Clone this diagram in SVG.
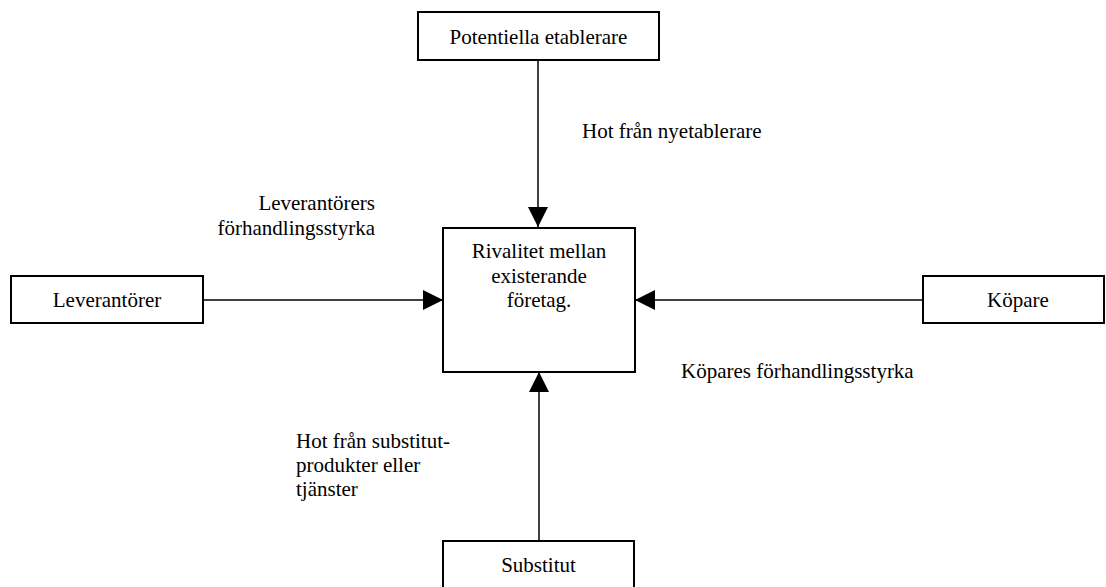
<svg xmlns="http://www.w3.org/2000/svg" width="1106" height="587" viewBox="0 0 1106 587">
<style>
.box{fill:#fff;stroke:#000;stroke-width:2}
.ln{stroke:#000;stroke-width:1.5;fill:none}
</style>
<defs>
<marker id="ah" viewBox="0 0 20 20" refX="20" refY="10" markerWidth="20" markerHeight="20" markerUnits="userSpaceOnUse" orient="auto">
<path d="M0,0 L20,10 L0,20 Z" fill="#000"/>
</marker>
</defs>
<rect width="1106" height="587" fill="#fff"/>
<g id="connectors">
<line class="ln" x1="538" y1="60" x2="538" y2="227" marker-end="url(#ah)"/>
<line class="ln" x1="203" y1="300" x2="443" y2="300" marker-end="url(#ah)"/>
<line class="ln" x1="923" y1="300" x2="635" y2="300" marker-end="url(#ah)"/>
<line class="ln" x1="539" y1="541" x2="539" y2="372" marker-end="url(#ah)"/>
</g>
<g font-family="Liberation Serif, Times New Roman, serif" font-size="21" fill="#000">
<g id="n-top"><rect class="box" x="418" y="12" width="241" height="48"/><text text-anchor="middle" x="538.5" y="44">Potentiella etablerare</text></g>
<g id="n-center"><rect class="box" x="443" y="228" width="192" height="144"/>
<text text-anchor="middle" x="539" y="258">Rivalitet mellan</text><text text-anchor="middle" x="539" y="283">existerande</text><text text-anchor="middle" x="539" y="307">företag.</text></g>
<g id="n-left"><rect class="box" x="11" y="276" width="192" height="47"/><text text-anchor="middle" x="107" y="307">Leverantörer</text></g>
<g id="n-right"><rect class="box" x="923" y="276" width="181" height="47"/><text text-anchor="middle" x="1018" y="307">Köpare</text></g>
<g id="n-bottom"><rect class="box" x="443" y="541" width="191" height="60"/><text text-anchor="middle" x="538.5" y="572">Substitut</text></g>
<g id="labels">
<text x="582" y="138">Hot från nyetablerare</text>
<text x="375" y="210" text-anchor="end">Leverantörers</text>
<text x="375" y="235" text-anchor="end">förhandlingsstyrka</text>
<text x="681" y="378">Köpares förhandlingsstyrka</text>
<text x="296" y="448">Hot från substitut-</text>
<text x="296" y="472">produkter eller</text>
<text x="296" y="496">tjänster</text>
</g>
</g>
</svg>
